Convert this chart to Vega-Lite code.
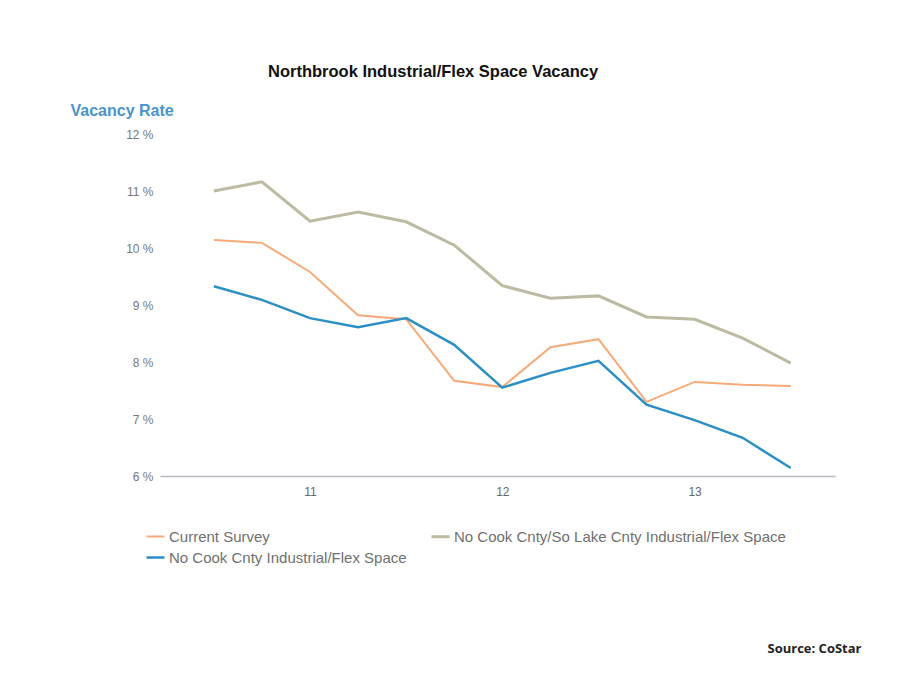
{
  "$schema": "https://vega.github.io/schema/vega-lite/v6.json",
  "width": 675,
  "height": 342,
  "autosize": {"type": "none"},
  "padding": {"left": 160, "top": 134, "right": 89, "bottom": 218},
  "background": "white",
  "title": {
    "text": "Northbrook Industrial/Flex Space Vacancy",
    "anchor": "start",
    "frame": "group",
    "dx": 108,
    "offset": 22,
    "font": "Liberation Sans",
    "fontSize": 16.5,
    "fontWeight": "bold",
    "color": "#111111"
  },
  "data": {
    "values": [
      {"q": 10.5, "series": "Current Survey", "rate": 10.14},
      {"q": 10.75, "series": "Current Survey", "rate": 10.09},
      {"q": 11.0, "series": "Current Survey", "rate": 9.58},
      {"q": 11.25, "series": "Current Survey", "rate": 8.82},
      {"q": 11.5, "series": "Current Survey", "rate": 8.75},
      {"q": 11.75, "series": "Current Survey", "rate": 7.67},
      {"q": 12.0, "series": "Current Survey", "rate": 7.56},
      {"q": 12.25, "series": "Current Survey", "rate": 8.26},
      {"q": 12.5, "series": "Current Survey", "rate": 8.40},
      {"q": 12.75, "series": "Current Survey", "rate": 7.30},
      {"q": 13.0, "series": "Current Survey", "rate": 7.65},
      {"q": 13.25, "series": "Current Survey", "rate": 7.60},
      {"q": 13.5, "series": "Current Survey", "rate": 7.58},
      {"q": 10.5, "series": "No Cook Cnty/So Lake Cnty Industrial/Flex Space", "rate": 11.0},
      {"q": 10.75, "series": "No Cook Cnty/So Lake Cnty Industrial/Flex Space", "rate": 11.16},
      {"q": 11.0, "series": "No Cook Cnty/So Lake Cnty Industrial/Flex Space", "rate": 10.47},
      {"q": 11.25, "series": "No Cook Cnty/So Lake Cnty Industrial/Flex Space", "rate": 10.63},
      {"q": 11.5, "series": "No Cook Cnty/So Lake Cnty Industrial/Flex Space", "rate": 10.46},
      {"q": 11.75, "series": "No Cook Cnty/So Lake Cnty Industrial/Flex Space", "rate": 10.05},
      {"q": 12.0, "series": "No Cook Cnty/So Lake Cnty Industrial/Flex Space", "rate": 9.34},
      {"q": 12.25, "series": "No Cook Cnty/So Lake Cnty Industrial/Flex Space", "rate": 9.12},
      {"q": 12.5, "series": "No Cook Cnty/So Lake Cnty Industrial/Flex Space", "rate": 9.16},
      {"q": 12.75, "series": "No Cook Cnty/So Lake Cnty Industrial/Flex Space", "rate": 8.79},
      {"q": 13.0, "series": "No Cook Cnty/So Lake Cnty Industrial/Flex Space", "rate": 8.75},
      {"q": 13.25, "series": "No Cook Cnty/So Lake Cnty Industrial/Flex Space", "rate": 8.42},
      {"q": 13.5, "series": "No Cook Cnty/So Lake Cnty Industrial/Flex Space", "rate": 7.98},
      {"q": 10.5, "series": "No Cook Cnty Industrial/Flex Space", "rate": 9.33},
      {"q": 10.75, "series": "No Cook Cnty Industrial/Flex Space", "rate": 9.09},
      {"q": 11.0, "series": "No Cook Cnty Industrial/Flex Space", "rate": 8.77},
      {"q": 11.25, "series": "No Cook Cnty Industrial/Flex Space", "rate": 8.61},
      {"q": 11.5, "series": "No Cook Cnty Industrial/Flex Space", "rate": 8.77},
      {"q": 11.75, "series": "No Cook Cnty Industrial/Flex Space", "rate": 8.30},
      {"q": 12.0, "series": "No Cook Cnty Industrial/Flex Space", "rate": 7.55},
      {"q": 12.25, "series": "No Cook Cnty Industrial/Flex Space", "rate": 7.81},
      {"q": 12.5, "series": "No Cook Cnty Industrial/Flex Space", "rate": 8.02},
      {"q": 12.75, "series": "No Cook Cnty Industrial/Flex Space", "rate": 7.25},
      {"q": 13.0, "series": "No Cook Cnty Industrial/Flex Space", "rate": 6.98},
      {"q": 13.25, "series": "No Cook Cnty Industrial/Flex Space", "rate": 6.67},
      {"q": 13.5, "series": "No Cook Cnty Industrial/Flex Space", "rate": 6.14}
    ]
  },
  "mark": {"type": "line", "clip": false},
  "encoding": {
    "x": {
      "field": "q",
      "type": "quantitative",
      "scale": {"domain": [10.22, 13.73], "nice": false, "zero": false},
      "axis": {
        "values": [11, 12, 13],
        "format": "d",
        "grid": false,
        "ticks": false,
        "domainColor": "#b8b8c0",
        "domainWidth": 1.5,
        "labelFont": "Liberation Sans",
        "labelFontSize": 12,
        "labelColor": "#666666",
        "labelPadding": 10,
        "title": "Source: CoStar",
        "titleFont": "Open Sans",
        "titleFontSize": 13,
        "titleFontWeight": "bold",
        "titleColor": "#222222",
        "titleAlign": "left",
        "titleBaseline": "middle",
        "titleX": 607,
        "titleY": 172
      }
    },
    "y": {
      "field": "rate",
      "type": "quantitative",
      "scale": {"domain": [6, 12], "nice": false, "zero": false},
      "axis": {
        "values": [6, 7, 8, 9, 10, 11, 12],
        "labelExpr": "datum.value + ' %'",
        "grid": false,
        "ticks": false,
        "domain": false,
        "labelFont": "Liberation Sans",
        "labelFontSize": 12,
        "labelColor": "#777777",
        "labelPadding": 7,
        "title": "Vacancy Rate",
        "titleAngle": 0,
        "titleAlign": "left",
        "titleBaseline": "middle",
        "titleX": -90,
        "titleY": -24,
        "titleFont": "Liberation Sans",
        "titleFontSize": 16,
        "titleFontWeight": "bold",
        "titleColor": "#4a93cc"
      }
    },
    "color": {
      "field": "series",
      "type": "nominal",
      "scale": {
        "domain": ["Current Survey", "No Cook Cnty Industrial/Flex Space", "No Cook Cnty/So Lake Cnty Industrial/Flex Space"],
        "range": ["#f6aa78", "#2b8fc6", "#bdbaa2"]
      },
      "legend": {
        "title": null,
        "orient": "none",
        "legendX": -15,
        "legendY": 392,
        "columns": 2,
        "columnPadding": 18,
        "rowPadding": 2,
        "symbolType": "stroke",
        "symbolSize": 324,
        "symbolStrokeWidth": 2.5,
        "labelFont": "Liberation Sans",
        "labelFontSize": 15,
        "labelColor": "#707070",
        "labelLimit": 400,
        "labelOffset": 3
      }
    },
    "strokeWidth": {
      "field": "series",
      "type": "nominal",
      "scale": {
        "domain": ["Current Survey", "No Cook Cnty Industrial/Flex Space", "No Cook Cnty/So Lake Cnty Industrial/Flex Space"],
        "range": [2, 3, 2]
      },
      "legend": null
    }
  },
  "config": {"view": {"stroke": null}}
}
